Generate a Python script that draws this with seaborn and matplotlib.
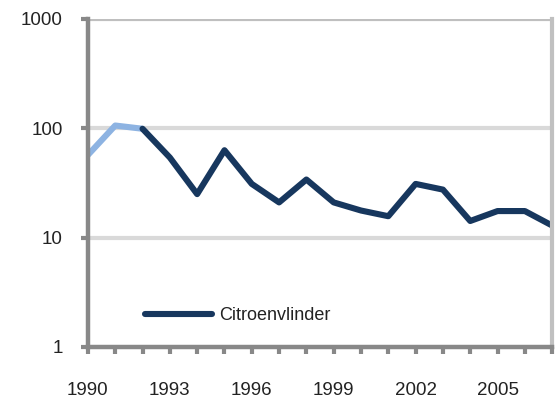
import numpy as np
import pandas as pd
import matplotlib
matplotlib.use("Agg")
import matplotlib.pyplot as plt
import seaborn as sns

# values
years = list(range(1990, 2008))
counts = [57, 106, 99, 54, 25, 63, 31, 21, 34, 21, 17.7, 15.7, 31, 27.5, 14.2, 17.5, 17.5, 12.9]
series_name = "Citroenvlinder"
year_labels = [1990, 1993, 1996, 1999, 2002, 2005]
y_ticks = [1, 10, 100, 1000]

dark_blue = "#17375e"
light_blue = "#8db3e2"

sns.set_theme(style="white")
plt.rcParams["font.family"] = ["Liberation Sans", "DejaVu Sans"]
plt.rcParams["xtick.bottom"] = True
plt.rcParams["ytick.left"] = True

df = pd.DataFrame({"year": years, "count": counts})
first = df[df["year"] <= 1992]
rest = df[df["year"] >= 1992]

fig = plt.figure(figsize=(5.6, 4.03), dpi=100)
ax = fig.add_axes([0.157, 0.139, 0.829, 0.814])

sns.lineplot(data=first, x="year", y="count", ax=ax, color=light_blue,
             linewidth=4.4, solid_capstyle="butt", legend=False)
sns.lineplot(data=rest, x="year", y="count", ax=ax, color=dark_blue,
             linewidth=4.4, solid_capstyle="round", label=series_name)

ax.set_yscale("log")
ax.set_ylim(1, 1000)
ax.set_xlim(1990, 2007)
ax.set_yticks(y_ticks)
ax.set_yticklabels([str(v) for v in y_ticks])
ax.yaxis.set_minor_locator(matplotlib.ticker.NullLocator())
ax.set_xticks(years)
ax.set_xticklabels([str(y) if y in year_labels else "" for y in years])
ax.set_xlabel("")
ax.set_ylabel("")

# grid lines at the decades
for v in [10, 100]:
    ax.axhline(v, color="#d9d9d9", linewidth=3, zorder=0)
ax.axhline(1000, color="#bfbfbf", linewidth=3, zorder=0)

ax.spines["top"].set_visible(False)
ax.spines["right"].set_color("#c0c0c0")
ax.spines["right"].set_linewidth(3)
ax.spines["left"].set_color("#888888")
ax.spines["left"].set_linewidth(3.2)
ax.spines["bottom"].set_color("#888888")
ax.spines["bottom"].set_linewidth(3.2)

ax.tick_params(axis="both", which="major", direction="out", length=5, width=3,
               color="#888888", labelsize=13.5, labelcolor="#222222")
ax.tick_params(axis="x", pad=20)
ax.tick_params(axis="y", pad=13)

leg = ax.legend(loc="lower left", bbox_to_anchor=(0.088, 0.02), frameon=False,
                handlelength=3.7, fontsize=13, handletextpad=0.4)
for t in leg.get_texts():
    t.set_color("#222222")

fig.savefig("out.png", dpi=100)
